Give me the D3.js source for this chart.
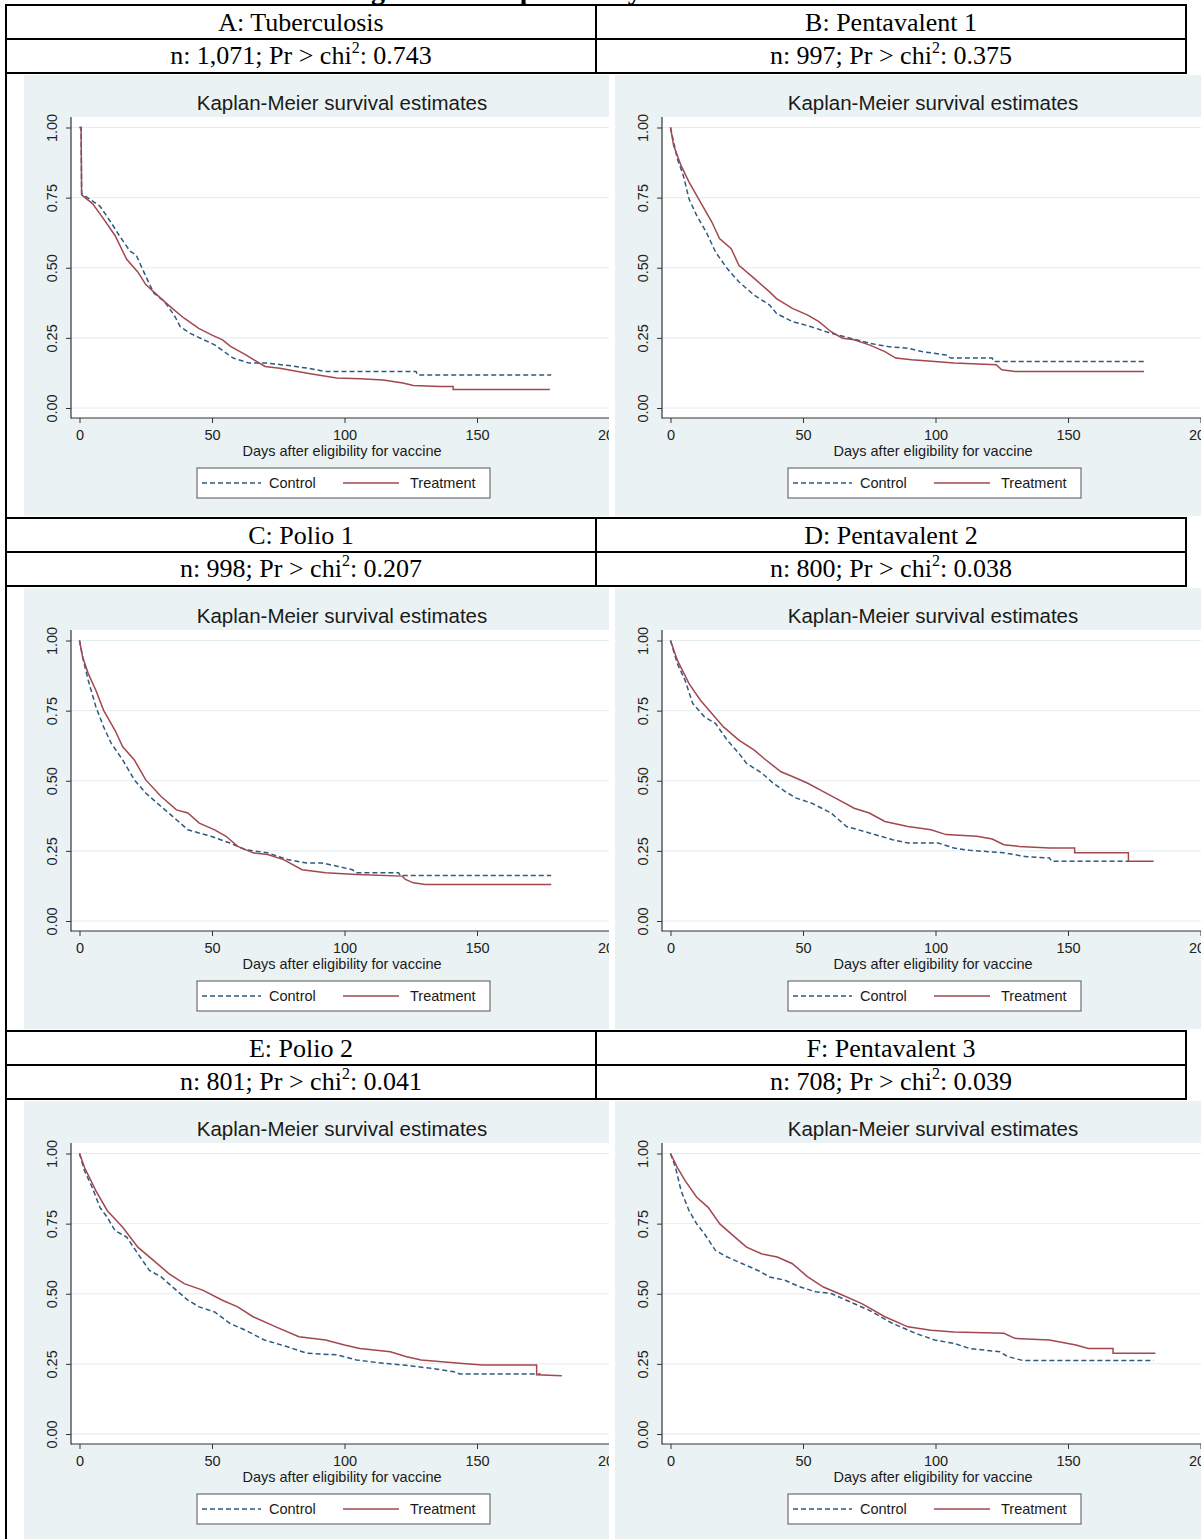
<!DOCTYPE html>
<html><head><meta charset="utf-8">
<script src="https://cdn.jsdelivr.net/npm/d3@7"></script>
<style>html,body{margin:0;padding:0;background:#fff;} svg{display:block;}</style>
</head><body>
<svg id="chart" width="1201" height="1539"></svg>
<script>
// ---------- DATA ----------
const figureTitle = "Figure 3: Compliance by Vaccine";
const panelTitles = ["A: Tuberculosis", "B: Pentavalent 1", "C: Polio 1", "D: Pentavalent 2", "E: Polio 2", "F: Pentavalent 3"];
const panelN = ["1,071", "997", "998", "800", "801", "708"];
const panelP = ["0.743", "0.375", "0.207", "0.038", "0.041", "0.039"];
const xTicks = [0, 50, 100, 150, 200];
const yTicks = [0, 0.25, 0.5, 0.75, 1];
const chartTitle = "Kaplan-Meier survival estimates";
const xTitle = "Days after eligibility for vaccine";
const seriesNames = ["Control", "Treatment"];

// [day, survival]
const controlA = [[0,1],[0.6,1],[0.8,0.765],[3,0.75],[7.7,0.72],[12,0.66],[15,0.615],[19,0.56],[21.4,0.545],[25,0.47],[28,0.41],[32,0.38],[35.8,0.33],[38,0.29],[42,0.265],[51,0.225],[58,0.178],[64,0.16],[71,0.16],[80,0.15],[86,0.142],[93,0.13],[127,0.13],[127.5,0.118],[178,0.118]];
const treatA = [[0,1],[0.6,1],[0.8,0.76],[5,0.728],[9,0.675],[13.4,0.615],[17.8,0.53],[22,0.485],[25,0.44],[30.8,0.39],[35,0.355],[39.5,0.32],[45,0.284],[50,0.26],[54,0.243],[57,0.22],[62.6,0.19],[70,0.148],[75.6,0.142],[86,0.124],[97,0.107],[106,0.104],[114.6,0.1],[122,0.089],[126,0.08],[136,0.077],[141,0.077],[141,0.066],[177.5,0.066]];
const controlB = [[0,1],[1.2,0.947],[2.6,0.888],[4.8,0.83],[7,0.745],[9.9,0.686],[13.5,0.627],[17,0.556],[21.4,0.497],[25.8,0.45],[31.6,0.402],[37.4,0.367],[40,0.337],[46,0.308],[53,0.29],[60.6,0.266],[67.8,0.249],[75,0.231],[82,0.219],[89.6,0.213],[95,0.201],[104,0.189],[105.7,0.178],[121.4,0.178],[122,0.166],[178.7,0.166]];
const treatB = [[0,1],[1.2,0.935],[4,0.864],[7,0.805],[11.3,0.734],[15.6,0.663],[18.5,0.604],[22.9,0.568],[25.8,0.509],[31.6,0.462],[37.4,0.414],[40,0.39],[46,0.355],[51.8,0.331],[56,0.308],[60.6,0.272],[64.9,0.249],[69.3,0.243],[75,0.225],[80.9,0.201],[85,0.178],[91,0.172],[99.7,0.166],[107,0.16],[122.9,0.154],[125,0.136],[130,0.13],[178.7,0.13]];
const controlC = [[0,1],[1.2,0.94],[3.3,0.858],[6.2,0.763],[9.1,0.692],[12,0.633],[16.3,0.574],[20.7,0.503],[25,0.456],[30.8,0.408],[36.6,0.361],[40.9,0.325],[49.6,0.302],[56.8,0.278],[62.6,0.254],[71,0.243],[78.5,0.219],[85.7,0.207],[91.5,0.207],[97.3,0.195],[103,0.183],[104.5,0.172],[120.4,0.172],[121,0.162],[178,0.162]];
const treatC = [[0,1],[1.2,0.94],[3.3,0.882],[6.2,0.822],[9.1,0.751],[13.4,0.68],[16.3,0.621],[20.7,0.574],[25,0.503],[30.8,0.444],[36.6,0.396],[40.9,0.385],[45.2,0.349],[51,0.325],[55.3,0.302],[59.7,0.266],[65.5,0.243],[71,0.237],[77,0.219],[84,0.183],[92.9,0.172],[104.5,0.166],[121.8,0.16],[123,0.148],[126,0.136],[130.5,0.13],[178,0.13]];
const controlD = [[0,1],[2.6,0.917],[5.5,0.858],[8.4,0.775],[12.8,0.728],[17,0.704],[21.4,0.645],[25.8,0.598],[28.7,0.562],[34.5,0.527],[38.8,0.491],[43.2,0.462],[47.5,0.438],[53.3,0.42],[60.6,0.385],[66.4,0.337],[75,0.314],[83.8,0.29],[89.6,0.278],[101,0.278],[107,0.26],[112.8,0.252],[125.8,0.243],[134.5,0.229],[143,0.225],[143.8,0.213],[173,0.213]];
const treatD = [[0,1],[2.6,0.929],[7,0.846],[11.3,0.787],[15.6,0.74],[20,0.692],[25.8,0.645],[31.6,0.609],[36,0.574],[41.7,0.532],[46,0.515],[51.8,0.491],[57.5,0.462],[63.5,0.432],[69.3,0.402],[75,0.385],[80.9,0.355],[89.6,0.337],[98.3,0.325],[104,0.308],[115.6,0.302],[121.4,0.292],[125.8,0.272],[131.6,0.266],[143,0.26],[152.5,0.26],[152.5,0.243],[172.8,0.243],[172.8,0.213],[182.3,0.213]];
const controlE = [[0,1],[1.9,0.938],[4.8,0.879],[7.7,0.808],[10.5,0.772],[13.4,0.725],[17.8,0.702],[22,0.643],[26.4,0.583],[30.8,0.56],[36.6,0.512],[40.9,0.477],[45.2,0.453],[51,0.435],[56.8,0.394],[62.6,0.37],[69.8,0.335],[78.5,0.311],[85.7,0.288],[97.3,0.282],[104.5,0.264],[114.6,0.252],[122.4,0.246],[132.6,0.234],[141.3,0.222],[143.5,0.214],[174,0.214]];
const treatE = [[0,1],[1.9,0.95],[6.2,0.867],[10.5,0.796],[16.3,0.737],[22,0.666],[27.9,0.619],[33.7,0.572],[39.5,0.536],[46.7,0.512],[53.9,0.477],[59.7,0.453],[65.5,0.418],[74.1,0.382],[82.8,0.347],[92.9,0.335],[100,0.317],[105.8,0.305],[117.3,0.293],[123.1,0.276],[128.9,0.264],[143.5,0.252],[152,0.246],[172.5,0.246],[172.5,0.211],[182,0.208]];
const controlF = [[0,1],[1.9,0.95],[4,0.867],[7,0.796],[9.9,0.749],[12.8,0.714],[17,0.654],[21.4,0.631],[27.2,0.607],[33,0.583],[37.4,0.56],[43.2,0.548],[49,0.524],[54.8,0.507],[60.6,0.501],[67.8,0.471],[75,0.441],[83.8,0.394],[92.5,0.359],[99.7,0.335],[107,0.323],[112.8,0.305],[118.6,0.299],[124.3,0.293],[127.2,0.276],[133,0.262],[182.3,0.262]];
const treatF = [[0,1],[2.6,0.95],[5.5,0.903],[9.9,0.844],[14.2,0.808],[18.6,0.749],[24.3,0.702],[28.7,0.666],[34.5,0.642],[40.3,0.631],[46,0.607],[51.8,0.56],[57.7,0.524],[63.5,0.501],[72.2,0.465],[80.9,0.418],[89.6,0.382],[98.3,0.37],[107,0.364],[125.8,0.359],[130,0.341],[143,0.335],[153,0.317],[157.7,0.305],[167,0.305],[167,0.288],[183,0.288]];

const controlSeries = [controlA, controlB, controlC, controlD, controlE, controlF];
const treatSeries = [treatA, treatB, treatC, treatD, treatE, treatF];

// ---------- DRAW ----------
const svg = d3.select("#chart");
const W = 1201, H = 1539;
const serif = "'Liberation Serif','Times New Roman',serif";
const sans = "'Liberation Sans',Arial,Helvetica,sans-serif";
const ctrlColor = "#2f5a80", trtColor = "#a3474f";
const bgColor = "#EAF2F3";

// clipped figure title
svg.append("text").attr("x", 346).attr("y", -1)
  .attr("font-family", serif).attr("font-weight", "bold").attr("font-size", 28)
  .text(figureTitle);

const rowStep = 513;
const colL = [6, 596, 1186];
const tableG = svg.append("g").attr("stroke", "#000").attr("stroke-width", 2);
for (let r = 0; r < 3; r++) {
  const top = 5 + rowStep * r;
  [top, top + 34, top + 68].forEach(yy => {
    tableG.append("line").attr("x1", 5).attr("x2", 1187).attr("y1", yy).attr("y2", yy);
  });
  [596, 1186].forEach(xx => {
    tableG.append("line").attr("x1", xx).attr("x2", xx).attr("y1", top).attr("y2", top + 68);
  });
}
tableG.append("line").attr("x1", 6).attr("x2", 6).attr("y1", 4).attr("y2", H);

panelTitles.forEach((t, i) => {
  const col = i % 2, row = Math.floor(i / 2);
  const top = 5 + rowStep * row;
  const cx = col ? 891 : 301;
  svg.append("text").attr("x", cx).attr("y", top + 26).attr("text-anchor", "middle")
    .attr("font-family", serif).attr("font-size", 26).text(t);
  const tx = svg.append("text").attr("x", cx).attr("y", top + 59).attr("text-anchor", "middle")
    .attr("font-family", serif).attr("font-size", 26);
  tx.append("tspan").text("n: " + panelN[i] + "; Pr > chi");
  tx.append("tspan").attr("font-size", 16).attr("dy", -11).text("2");
  tx.append("tspan").attr("dy", 11).text(": " + panelP[i]);
});

function drawPanel(i) {
  const col = i % 2, row = Math.floor(i / 2);
  const L = col ? 615 : 24;
  const Wp = col ? 586 : 585;
  const T = 75 + rowStep * row;
  const Hp = 441;
  const clipId = "clip" + i;
  svg.append("clipPath").attr("id", clipId).append("rect")
    .attr("x", L).attr("y", T).attr("width", Wp).attr("height", Hp);
  const g = svg.append("g").attr("clip-path", `url(#${clipId})`);
  g.append("rect").attr("x", L).attr("y", T).attr("width", Wp).attr("height", Hp).attr("fill", bgColor);
  const px0 = L + 47, py0 = T + 42, py1 = T + 343;
  g.append("rect").attr("x", px0).attr("y", py0).attr("width", Wp + 50).attr("height", py1 - py0).attr("fill", "#fff");

  const x = d3.scaleLinear().domain([0, 200]).range([L + 55.5, L + 585.5]);
  const y = d3.scaleLinear().domain([0, 1]).range([T + 333, T + 52.5]);

  // grid
  g.append("g").selectAll("line").data(yTicks).join("line")
    .attr("x1", px0).attr("x2", L + Wp + 50).attr("y1", d => y(d)).attr("y2", d => y(d))
    .attr("stroke", "#E3ECEE").attr("stroke-width", 1);

  // title
  g.append("text").attr("x", L + 318).attr("y", T + 35).attr("text-anchor", "middle")
    .attr("font-family", sans).attr("font-size", 20.5).attr("fill", "#1a1a1a").text(chartTitle);

  // x axis
  const xa = g.append("g").attr("transform", `translate(0,${py1})`)
    .call(d3.axisBottom(x).tickValues(xTicks).tickSize(5).tickSizeOuter(0).tickFormat(d3.format("d")));
  xa.select(".domain").remove();
  xa.selectAll("line").attr("stroke", "#333");
  xa.selectAll("text").attr("y", 22).attr("dy", null).attr("fill", "#222")
    .attr("font-family", sans).attr("font-size", 14.5);
  xa.attr("font-family", sans).attr("font-size", 14.5);

  // y axis
  const ya = g.append("g").attr("transform", `translate(${px0},0)`)
    .call(d3.axisLeft(y).tickValues(yTicks).tickSize(5).tickSizeOuter(0).tickFormat(d3.format(".2f")));
  ya.select(".domain").remove();
  ya.selectAll("line").attr("stroke", "#333");
  ya.selectAll("text").attr("x", 0).attr("y", -14).attr("dy", null)
    .attr("text-anchor", "middle").attr("transform", "rotate(-90)")
    .attr("fill", "#222").attr("font-family", sans).attr("font-size", 14.5);

  // axis lines
  g.append("line").attr("x1", px0).attr("x2", px0).attr("y1", py0).attr("y2", py1 + 0.5)
    .attr("stroke", "#333").attr("stroke-width", 1.2);
  g.append("line").attr("x1", px0).attr("x2", L + Wp + 50).attr("y1", py1).attr("y2", py1)
    .attr("stroke", "#333").attr("stroke-width", 1.2);

  // x title
  g.append("text").attr("x", L + 318).attr("y", T + 381).attr("text-anchor", "middle")
    .attr("font-family", sans).attr("font-size", 14.5).attr("fill", "#1a1a1a").text(xTitle);

  // curves
  const line = d3.line().x(d => x(d[0])).y(d => y(d[1]));
  g.append("path").datum(controlSeries[i]).attr("d", line).attr("fill", "none")
    .attr("stroke", ctrlColor).attr("stroke-width", 1.5).attr("stroke-dasharray", "5,3");
  g.append("path").datum(treatSeries[i]).attr("d", line).attr("fill", "none")
    .attr("stroke", trtColor).attr("stroke-width", 1.5);

  // legend
  const lg = g.append("g");
  lg.append("rect").attr("x", L + 173).attr("y", T + 393).attr("width", 293).attr("height", 30)
    .attr("fill", "#fff").attr("stroke", "#555").attr("stroke-width", 1);
  lg.append("line").attr("x1", L + 178).attr("x2", L + 237).attr("y1", T + 408).attr("y2", T + 408)
    .attr("stroke", ctrlColor).attr("stroke-width", 1.5).attr("stroke-dasharray", "5,3");
  lg.append("text").attr("x", L + 245).attr("y", T + 413).attr("font-family", sans).attr("font-size", 14.5)
    .attr("fill", "#1a1a1a").text(seriesNames[0]);
  lg.append("line").attr("x1", L + 319).attr("x2", L + 375).attr("y1", T + 408).attr("y2", T + 408)
    .attr("stroke", trtColor).attr("stroke-width", 1.5);
  lg.append("text").attr("x", L + 386).attr("y", T + 413).attr("font-family", sans).attr("font-size", 14.5)
    .attr("fill", "#1a1a1a").text(seriesNames[1]);
}
for (let i = 0; i < 6; i++) drawPanel(i);
</script>
</body></html>
